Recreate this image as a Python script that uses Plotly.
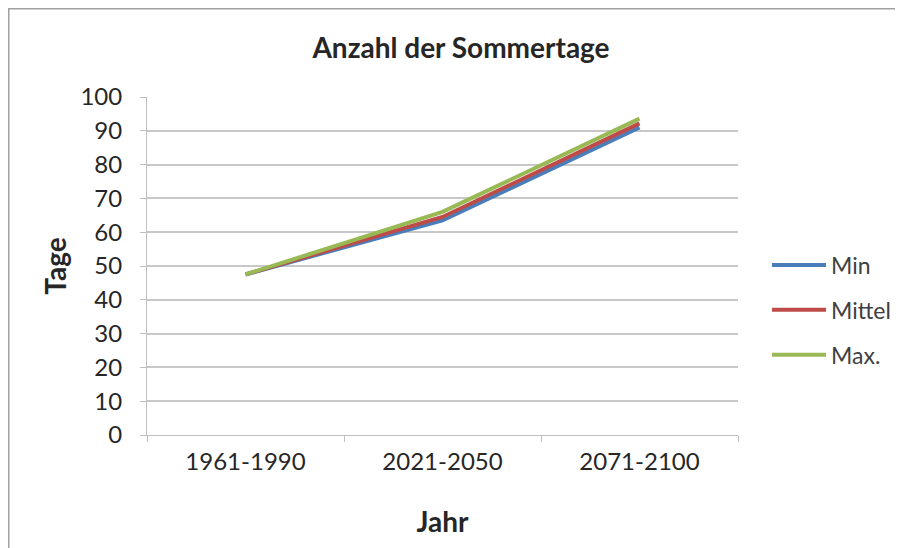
import plotly.graph_objects as go

categories = ["1961-1990", "2021-2050", "2071-2100"]
min_vals = [47.5, 63.5, 91]
mittel_vals = [47.5, 64.5, 92.2]
max_vals = [47.5, 66, 93.6]
y_ticks = list(range(0, 101, 10))

series = [
    ("Min", min_vals, "#4a7ebb"),
    ("Mittel", mittel_vals, "#be4b48"),
    ("Max.", max_vals, "#98b954"),
]

FONT = "Lato"
# page body has an 8px margin; figure coordinates are screen - 8
L, T, PW, PH = 139, 89, 591, 338
W, H = 903, 548

fig = go.Figure()
for name, vals, col in series:
    fig.add_trace(go.Scatter(
        x=categories, y=vals, name=name, mode="lines",
        line=dict(color=col, width=4), legendgroup=name,
    ))

fig.update_layout(
    width=W, height=H,
    paper_bgcolor="white", plot_bgcolor="white",
    margin=dict(l=L, r=W - L - PW, t=T, b=H - T - PH, autoexpand=False),
    font=dict(family=FONT, size=24, color="#262626"),
    title=dict(text="<b>Anzahl der Sommertage</b>", x=453 / W, xanchor="center",
               y=1 - 40 / H, yanchor="middle", font=dict(size=28, family=FONT)),
    legend=dict(x=(759 - L) / PW, y=1 - (302 - T) / PH, xanchor="left", yanchor="middle",
                traceorder="grouped", tracegroupgap=12,
                font=dict(size=23, family=FONT, color="#404040"), itemwidth=54),
    showlegend=True,
)
fig.update_xaxes(
    type="category", range=[-0.5, 2.5],
    showline=True, linecolor="#bfbfbf", linewidth=1,
    ticks="outside", tickson="boundaries", ticklen=6, tickcolor="#bfbfbf",
    ticklabelstandoff=5,
    showgrid=False,
    title=dict(text="<b>Jahr</b>", font=dict(size=28, family=FONT), standoff=38),
    tickfont=dict(size=24),
)
fig.update_yaxes(
    range=[0, 100], tickvals=y_ticks,
    showline=True, linecolor="#bfbfbf", linewidth=1,
    ticks="outside", ticklen=6, tickcolor="#bfbfbf",
    ticklabelstandoff=13,
    showgrid=True, gridcolor="#c8c8c8", gridwidth=1.5,
    zeroline=False,
    title=dict(text="<b>Tage</b>", font=dict(size=28, family=FONT), standoff=5),
    tickfont=dict(size=24),
)
# outer chart frame (border of the embedded chart object)
fig.add_shape(type="rect", xref="paper", yref="paper",
              x0=-L / PW, x1=1.5, y0=-0.5, y1=1 + T / PH,
              line=dict(color="#a0a0a0", width=3), layer="below")

fig.write_html("out.html")
